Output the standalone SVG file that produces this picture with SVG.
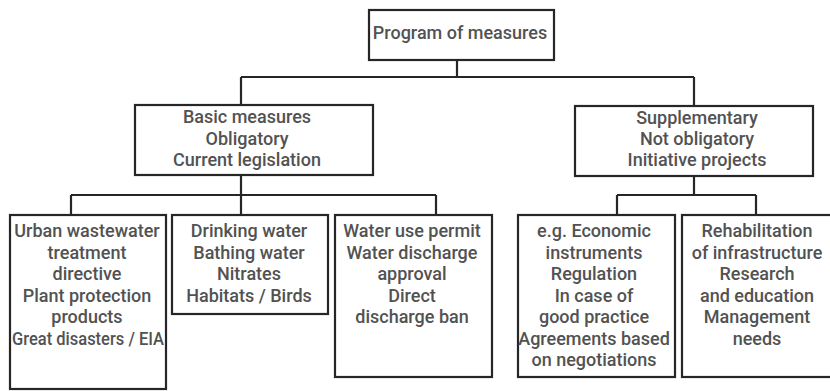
<svg xmlns="http://www.w3.org/2000/svg" width="830" height="391" viewBox="0 0 830 391">
<style>
.box{fill:#fff;stroke:#262626;stroke-width:2.2}
.ln{fill:none;stroke:#262626;stroke-width:2.2}
text{font-family:Roboto,"Liberation Sans",Arial,sans-serif;font-size:18px;font-weight:500;fill:#525252;text-anchor:middle}
</style>
<rect width="830" height="391" fill="#fff"/>
<g id="connectors">
<path class="ln" d="M457 60V77M241 77H694M241 77V105M694 77V106"/>
<path class="ln" d="M241 175V215M71 195H436M71 195V215M436 195V215"/>
<path class="ln" d="M694 176V195M617 195H756M617 195V215M756 195V215"/>
</g>
<g id="n-program">
<rect class="box" x="369" y="10" width="185" height="50"/>
<text x="460" y="39">Program of measures</text>
</g>
<g id="n-basic">
<rect class="box" x="135" y="105" width="238" height="70"/>
<text x="247" y="123">Basic measures</text>
<text x="247" y="144.5">Obligatory</text>
<text x="247" y="166">Current legislation</text>
</g>
<g id="n-supp">
<rect class="box" x="575" y="106" width="238" height="70"/>
<text x="697" y="124">Supplementary</text>
<text x="697" y="145">Not obligatory</text>
<text x="697" y="166">Initiative projects</text>
</g>
<g id="n-urban">
<rect class="box" x="10" y="215" width="156" height="174"/>
<text x="87" y="237">Urban wastewater</text>
<text x="87" y="258.5">treatment</text>
<text x="87" y="280">directive</text>
<text x="87" y="301.5">Plant protection</text>
<text x="87" y="323">products</text>
<text x="88" y="344.5" textLength="152" lengthAdjust="spacingAndGlyphs">Great disasters / EIA</text>
</g>
<g id="n-drinking">
<rect class="box" x="172" y="215" width="156" height="99"/>
<text x="249" y="237">Drinking water</text>
<text x="249" y="258.5">Bathing water</text>
<text x="249" y="280">Nitrates</text>
<text x="249" y="301.5">Habitats / Birds</text>
</g>
<g id="n-wateruse">
<rect class="box" x="335" y="215" width="157" height="162"/>
<text x="412" y="237">Water use permit</text>
<text x="412" y="258.5">Water discharge</text>
<text x="412" y="280">approval</text>
<text x="412" y="301.5">Direct</text>
<text x="412" y="323">discharge ban</text>
</g>
<g id="n-economic">
<rect class="box" x="518" y="215" width="157" height="162"/>
<text x="594" y="237">e.g. Economic</text>
<text x="594" y="258.5">instruments</text>
<text x="594" y="280">Regulation</text>
<text x="594" y="301.5">In case of</text>
<text x="594" y="323">good practice</text>
<text x="594" y="344.5">Agreements based</text>
<text x="594" y="366">on negotiations</text>
</g>
<g id="n-rehab">
<rect class="box" x="682" y="215" width="160" height="162"/>
<text x="757" y="237">Rehabilitation</text>
<text x="757" y="258.5">of infrastructure</text>
<text x="757" y="280">Research</text>
<text x="757" y="301.5">and education</text>
<text x="757" y="323">Management</text>
<text x="757" y="344.5">needs</text>
</g>
</svg>
